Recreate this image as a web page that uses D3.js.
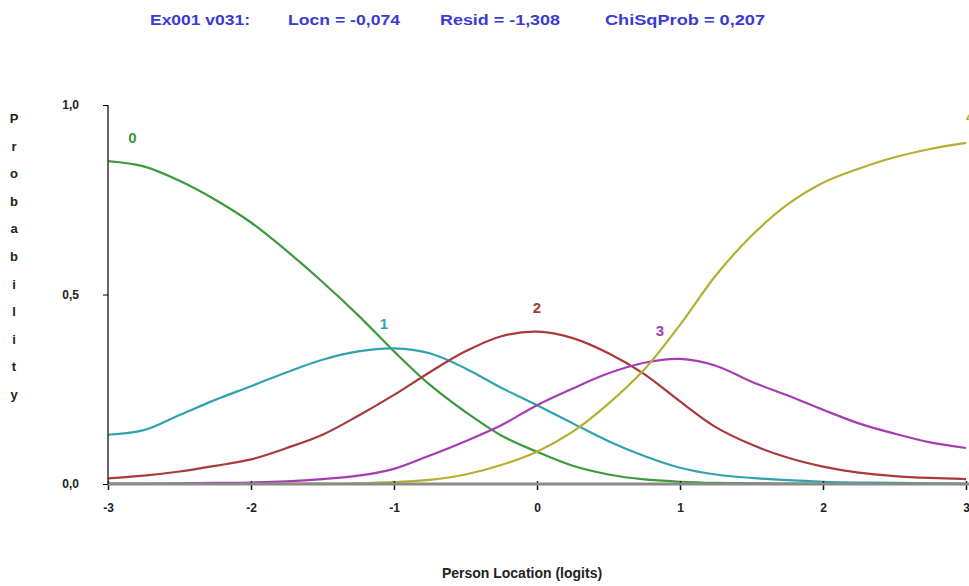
<!DOCTYPE html>
<html>
<head>
<meta charset="utf-8">
<script src="https://cdn.jsdelivr.net/npm/d3@7"></script>
<style>
  body { margin: 0; background: #fff; }
  svg { display: block; font-family: "Liberation Sans", Arial, sans-serif; }
  .tick text { font-weight: bold; font-size: 12px; fill: #222; }
</style>
</head>
<body>
<figure id="graph" style="margin:0"></figure>
<script>
// person locations (logits) where the curves were read
const locations = [-3, -2.75, -2.5, -2.25, -2, -1.75, -1.5, -1.25, -1, -0.75, -0.5, -0.25,
  0, 0.25, 0.5, 0.75, 1, 1.25, 1.5, 1.75, 2, 2.25, 2.5, 2.75, 3];

const cat0 = [0.852, 0.838, 0.80, 0.75, 0.69, 0.615, 0.533, 0.445, 0.35, 0.262, 0.19, 0.128,
  0.085, 0.048, 0.025, 0.012, 0.006, 0.003, 0.002, 0.001, 0.001, 0, 0, 0, 0];
const cat1 = [0.13, 0.142, 0.182, 0.222, 0.258, 0.295, 0.328, 0.35, 0.358, 0.345, 0.305, 0.254,
  0.208, 0.16, 0.113, 0.074, 0.043, 0.025, 0.016, 0.01, 0.006, 0.004, 0.003, 0.002, 0.001];
const cat2 = [0.015, 0.022, 0.033, 0.048, 0.065, 0.095, 0.13, 0.18, 0.235, 0.295, 0.35, 0.39,
  0.402, 0.385, 0.345, 0.29, 0.218, 0.15, 0.104, 0.07, 0.046, 0.03, 0.021, 0.016, 0.013];
const cat3 = [0.001, 0.001, 0.002, 0.003, 0.004, 0.007, 0.013, 0.022, 0.04, 0.075, 0.113, 0.155,
  0.208, 0.252, 0.292, 0.32, 0.33, 0.312, 0.27, 0.234, 0.196, 0.16, 0.133, 0.11, 0.095];
const cat4 = [0, 0, 0, 0, 0, 0.001, 0.001, 0.002, 0.005, 0.011, 0.025, 0.05,
  0.085, 0.138, 0.212, 0.302, 0.42, 0.55, 0.655, 0.737, 0.795, 0.832, 0.862, 0.884, 0.9];

const categories = ['0', '1', '2', '3', '4'];
const colors = ['#3c9a3c', '#2fa3ad', '#a83a3a', '#a63cb4', '#b2b030'];
// where each category number sits (location, probability)
const labelPos = [[-2.83, 0.9], [-1.07, 0.41], [0, 0.45], [0.86, 0.39], [3.03, 0.955]];

const xTicks = [-3, -2, -1, 0, 1, 2, 3];
const yTicks = [0, 0.5, 1];

const titleParts = ['Ex001 v031:', 'Locn = -0,074', 'Resid = -1,308', 'ChiSqProb = 0,207'];
const xTitle = 'Person Location (logits)';
const yTitle = 'Probability';

const series = [cat0, cat1, cat2, cat3, cat4];

const width = 969, height = 586;
const margin = { top: 105, right: 3, bottom: 102, left: 108 };

const svg = d3.select('figure#graph')
  .append('svg')
  .attr('width', width)
  .attr('height', height);

const x = d3.scaleLinear().domain([-3, 3]).range([margin.left, width - margin.right]);
const y = d3.scaleLinear().domain([0, 1]).range([height - margin.bottom, margin.top]);

// title, four pieces spread like the original
const titleX = [150, 288, 440, 605];
const titleW = [100, 112, 120, 160];
svg.append('g').selectAll('text')
  .data(titleParts)
  .join('text')
  .attr('x', (d, i) => titleX[i])
  .attr('y', 25)
  .attr('fill', '#3a3ad6')
  .attr('textLength', (d, i) => titleW[i])
  .attr('lengthAdjust', 'spacingAndGlyphs')
  .style('font-size', '14px').style('font-weight', 'bold')
  .text(d => d);

// curves
const line = d3.line()
  .x((d, i) => x(locations[i]))
  .y(d => y(d))
  .curve(d3.curveCatmullRom.alpha(0.5));

series.forEach((s, k) => {
  svg.append('path')
    .datum(s)
    .attr('fill', 'none')
    .attr('stroke', colors[k])
    .attr('stroke-width', 2.2)
    .attr('d', line);
});

// x axis
const xAxis = svg.append('g')
  .attr('transform', `translate(0, ${y(0)})`)
  .call(d3.axisBottom(x).tickValues(xTicks).tickSize(6).tickPadding(13)
    .tickFormat(d => String(d)));
xAxis.select('.domain').remove();
xAxis.append('line')
  .attr('x1', x(-3)).attr('x2', width)
  .attr('stroke', '#8a8a8a').attr('stroke-width', 3);
xAxis.selectAll('.tick line').attr('stroke', '#111').attr('stroke-width', 1.5).attr('y1', -3);

// y axis
const yAxis = svg.append('g')
  .attr('transform', `translate(${x(-3)}, 0)`)
  .call(d3.axisLeft(y).tickValues(yTicks).tickSize(5).tickPadding(24)
    .tickFormat(d => d3.format('.1f')(d).replace('.', ',')));
yAxis.select('.domain').attr('stroke', '#333').attr('stroke-width', 1.5)
  .attr('d', `M0,${y(1)}V${y(0)}`);

// category numbers
labelPos.forEach((p, k) => {
  svg.append('text')
    .attr('x', x(p[0])).attr('y', y(p[1]))
    .attr('text-anchor', 'middle')
    .attr('fill', colors[k])
    .style('font-size', '15px').style('font-weight', 'bold')
    .text(categories[k]);
});

// axis titles
svg.append('text')
  .attr('x', 522).attr('y', 578)
  .attr('text-anchor', 'middle')
  .attr('fill', '#222')
  .style('font-size', '14px').style('font-weight', 'bold')
  .text(xTitle);

svg.append('g').selectAll('text')
  .data(yTitle.split(''))
  .join('text')
  .attr('x', 14)
  .attr('y', (d, i) => 123 + i * 27.6)
  .attr('text-anchor', 'middle')
  .attr('fill', '#222')
  .style('font-size', '13px').style('font-weight', 'bold')
  .text(d => d);
</script>
</body>
</html>
